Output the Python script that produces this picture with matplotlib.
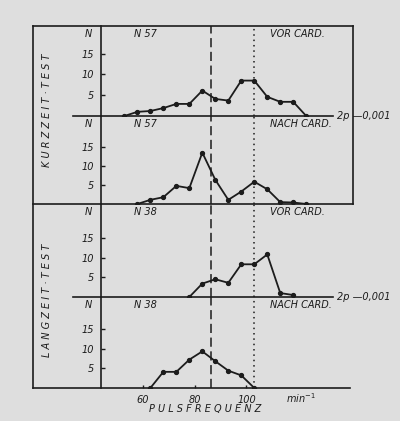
# Pulsfrequenz-Verteilung vor / nach Cardiazol, Kurzzeit- und Langzeit-Test
import matplotlib
matplotlib.use('Agg')
import matplotlib.pyplot as plt
from matplotlib.lines import Line2D

# data (pulse class centre, N)
kurz_vor_x = [53, 58, 63, 68, 73, 78, 83, 88, 93, 98, 103, 108, 113, 118, 123]
kurz_vor_n = [0, 1.0, 1.2, 1.9, 2.9, 2.9, 6.1, 4.1, 3.7, 8.5, 8.5, 4.6, 3.4, 3.4, 0]

kurz_nach_x = [58, 63, 68, 73, 78, 83, 88, 93, 98, 103, 108, 113, 118, 123]
kurz_nach_n = [0, 1.1, 1.8, 4.8, 4.2, 13.6, 6.4, 1.1, 3.3, 5.9, 3.9, 0.5, 0.4, 0]

lang_vor_x = [78, 83, 88, 93, 98, 103, 108, 113, 118]
lang_vor_n = [0, 3.4, 4.5, 3.6, 8.3, 8.3, 10.8, 1.0, 0.5]

lang_nach_x = [63, 68, 73, 78, 83, 88, 93, 98, 103]
lang_nach_n = [0, 4.1, 4.1, 7.2, 9.3, 6.8, 4.4, 3.2, 0]

panel_x = [kurz_vor_x, kurz_nach_x, lang_vor_x, lang_nach_x]
panel_n = [kurz_vor_n, kurz_nach_n, lang_vor_n, lang_nach_n]
panel_group = ['N 57', 'N 57', 'N 38', 'N 38']
panel_state = ['VOR CARD.', 'NACH CARD.', 'VOR CARD.', 'NACH CARD.']
panel_ymax = [21.6, 23.3, 23.6, 23.1]

x_ticks = [60, 80, 100]
dash_x = 86.5   # dashed reference line
dot_x = 103     # dotted reference line

W, H = 400, 421
ink = '#1c1c1c'
paper = '#dedede'

fig = plt.figure(figsize=(4, 4.21), dpi=100, facecolor=paper)
plt.rcParams['font.family'] = 'DejaVu Sans'

def fx(px):
    return px / W

def fy(py):
    return 1 - py / H

def fline(x0, y0, x1, y1, **kw):
    fig.add_artist(Line2D([fx(x0), fx(x1)], [fy(y0), fy(y1)], color=ink, lw=1.2, **kw))

# panel edges in pixels (top, bottom)
edges = [(26, 116), (116, 204), (204, 297), (297, 388)]
left, right = 101, 353

txt = dict(color=ink, fontsize=7, style='italic')

axes = []
for i, (top, bot) in enumerate(edges):
    ax = fig.add_axes([fx(left), fy(bot), fx(right) - fx(left), (bot - top) / H])
    ax.set_facecolor('none')
    ax.plot(panel_x[i], panel_n[i], color=ink, lw=1.3, marker='o', ms=2.8)
    ax.set_xlim(44.0, 141.0)
    ax.set_ylim(0, panel_ymax[i])
    ax.axvline(dash_x, color=ink, lw=1.1, dashes=(6, 3))
    ax.axvline(dot_x, color=ink, lw=1.1, dashes=(1, 2.5))
    for s in ['top', 'right', 'bottom']:
        ax.spines[s].set_visible(False)
    ax.spines['left'].set_color(ink)
    ax.spines['left'].set_linewidth(1.2)
    ax.set_yticks([5, 10, 15])
    ax.set_yticklabels(['5', '10', '15'], **txt)
    ax.tick_params(axis='y', direction='in', length=3, width=1, color=ink, pad=5)
    ax.set_xticks([])
    ax.text(-0.05, 0.91, 'N', transform=ax.transAxes, ha='center', va='center', **txt)
    ax.text(0.13, 0.91, panel_group[i], transform=ax.transAxes, ha='left', va='center', **txt)
    ax.text(0.67, 0.91, panel_state[i], transform=ax.transAxes, ha='left', va='center', **txt)
    axes.append(ax)

# x axis on the lowest panel
ax = axes[-1]
ax.set_xticks(x_ticks)
ax.set_xticklabels([str(t) for t in x_ticks], **txt)
ax.tick_params(axis='x', direction='in', length=2.5, width=1, color=ink, pad=5)
ax.text(121, -0.115, 'min$^{-1}$', transform=ax.get_xaxis_transform(), ha='center', va='center', **txt)
ax.text(84, -0.235, 'P U L S F R E Q U E N Z', transform=ax.get_xaxis_transform(),
        ha='center', va='center', **txt)

# frame lines
fline(33, 26, 353, 26)
fline(33, 26, 33, 388)
fline(353, 26, 353, 204)
fline(73, 116, 333, 116)
fline(33, 204, 353, 204)
fline(73, 297, 333, 297)
fline(33, 388, 350, 388)

for yy in [116, 297]:
    fig.text(fx(337), fy(yy), '2p —0,001', ha='left', va='center', **txt)

fig.text(fx(47), fy(110), 'K U R Z Z E I T · T E S T', rotation=90, ha='center', va='center', **txt)
fig.text(fx(47), fy(300), 'L A N G Z E I T · T E S T', rotation=90, ha='center', va='center', **txt)

plt.savefig('out.png', dpi=100, facecolor=paper)
